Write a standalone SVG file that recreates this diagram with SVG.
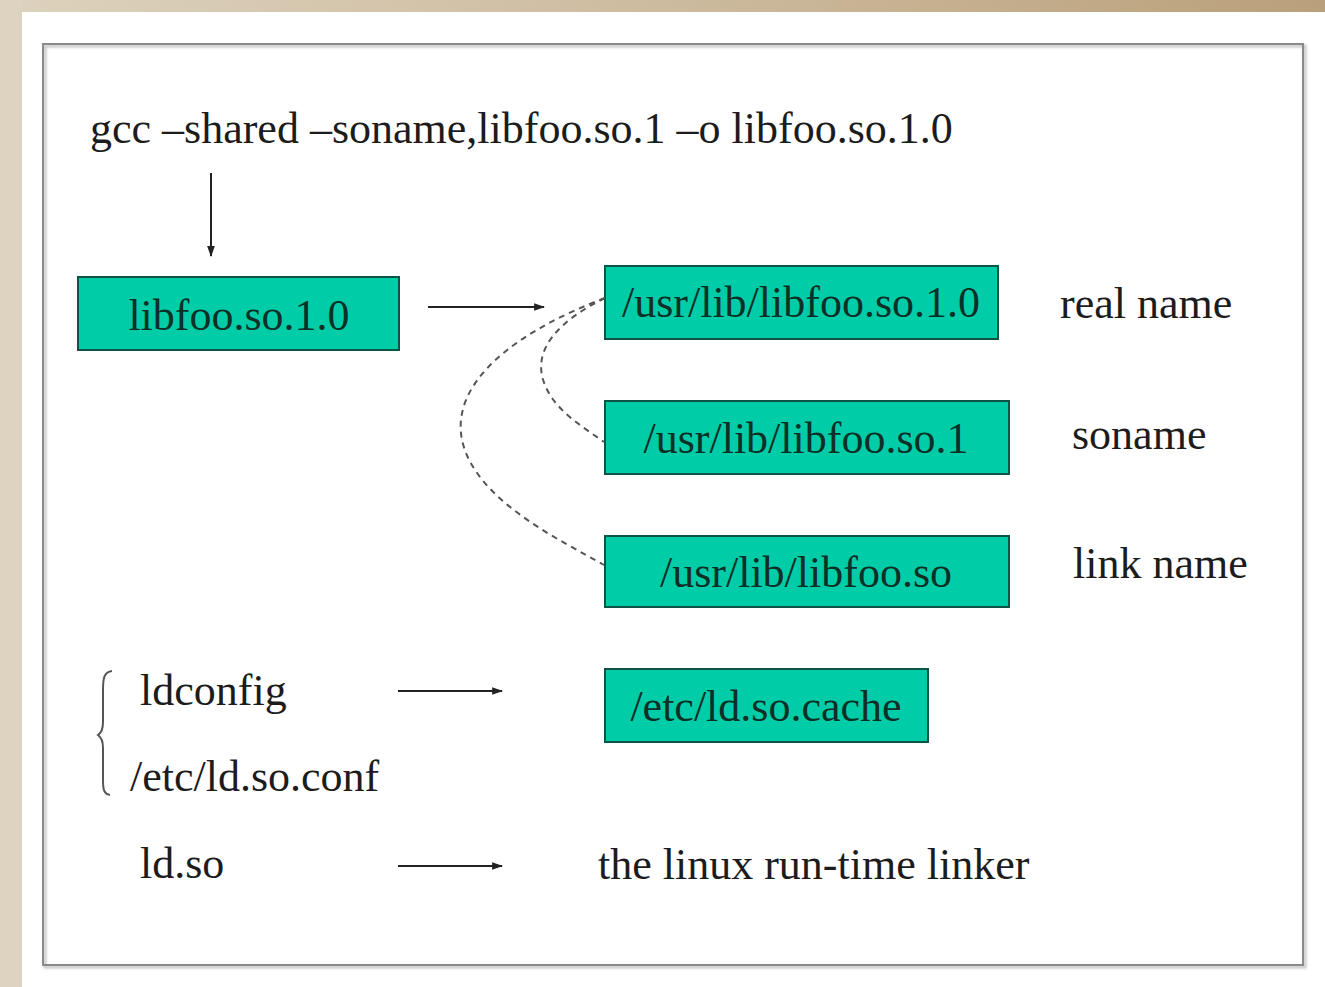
<svg xmlns="http://www.w3.org/2000/svg" width="1325" height="987" viewBox="0 0 1325 987">
<defs>
<linearGradient id="topbar" x1="0" y1="0" x2="1" y2="0">
<stop offset="0" stop-color="#ddd2bd"/>
<stop offset="0.5" stop-color="#cdbb9f"/>
<stop offset="1" stop-color="#baa07a"/>
</linearGradient>
<marker id="ah" viewBox="0 0 10 10" refX="9" refY="5" markerWidth="11" markerHeight="11" markerUnits="userSpaceOnUse" orient="auto">
<path d="M0,1.5 L10,5 L0,8.5 z" fill="#222"/>
</marker>
<filter id="sh" x="-5%" y="-5%" width="110%" height="110%">
<feGaussianBlur stdDeviation="1"/>
</filter>
</defs>
<style>
text{font-family:"Liberation Serif","Times New Roman","DejaVu Serif",serif;font-size:44px;fill:#1c1c1c}
.box rect{fill:#00cca8;stroke:#0d5446;stroke-width:2}
.box text{fill:#0c2f26;text-anchor:middle}
.conn line{stroke:#222;stroke-width:2;fill:none}
.conn path{stroke:#555;stroke-width:2;fill:none;stroke-dasharray:6 5}
</style>
<rect x="0" y="0" width="1325" height="987" fill="#ffffff"/>
<rect x="0" y="0" width="1325" height="12" fill="url(#topbar)"/>
<rect x="0" y="0" width="22" height="987" fill="#ddd3c0"/>
<rect x="45" y="46" width="1260" height="921" fill="none" stroke="#c8c8c8" stroke-width="3" filter="url(#sh)"/>
<rect x="43" y="44" width="1260" height="921" fill="none" stroke="#8a8a8a" stroke-width="2"/>

<g id="cmd"><text x="90" y="143">gcc –shared –soname,libfoo.so.1 –o libfoo.so.1.0</text></g>

<g id="n-libfoo" class="box"><rect x="78" y="277" width="321" height="73"/><text x="239" y="330">libfoo.so.1.0</text></g>
<g id="n-real" class="box"><rect x="605" y="266" width="393" height="73"/><text x="801" y="317">/usr/lib/libfoo.so.1.0</text></g>
<g id="n-soname" class="box"><rect x="605" y="401" width="404" height="73"/><text x="806" y="453">/usr/lib/libfoo.so.1</text></g>
<g id="n-link" class="box"><rect x="605" y="536" width="404" height="71"/><text x="806" y="587">/usr/lib/libfoo.so</text></g>
<g id="n-cache" class="box"><rect x="605" y="669" width="323" height="73"/><text x="766" y="721">/etc/ld.so.cache</text></g>

<g id="lbl-real"><text x="1060" y="318">real name</text></g>
<g id="lbl-soname"><text x="1072" y="449">soname</text></g>
<g id="lbl-link"><text x="1073" y="578">link name</text></g>

<g id="n-ldconfig"><text x="140" y="705">ldconfig</text></g>
<g id="n-ldconf"><text x="130" y="791">/etc/ld.so.conf</text></g>
<g id="n-ldso"><text x="140" y="878">ld.so</text></g>
<g id="n-linker"><text x="598" y="879">the linux run-time linker</text></g>
<g id="brace"><path d="M112,671 C104,672 103,678 103,690 L103,722 C103,730 101,733 98,735 C101,737 103,740 103,748 L103,780 C103,790 104,794 110,795" fill="none" stroke="#555" stroke-width="2"/></g>

<g id="connectors" class="conn">
<line x1="211" y1="173" x2="211" y2="256" marker-end="url(#ah)"/>
<line x1="428" y1="307" x2="544" y2="307" marker-end="url(#ah)"/>
<line x1="398" y1="691" x2="502" y2="691" marker-end="url(#ah)"/>
<line x1="398" y1="866" x2="502" y2="866" marker-end="url(#ah)"/>
<path d="M605,298 C560,320 530,350 545,385 C555,410 580,425 604,442"/>
<path d="M605,298 C520,330 450,380 462,440 C475,500 560,540 604,565"/>
</g>
</svg>
